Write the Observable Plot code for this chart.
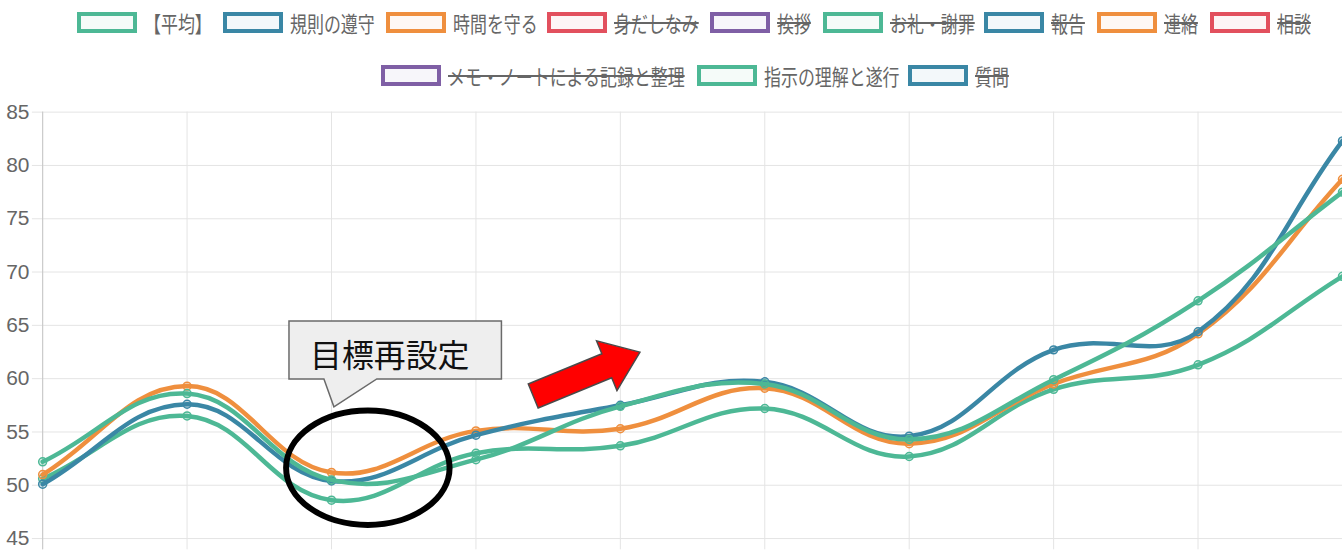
<!DOCTYPE html>
<html>
<head>
<meta charset="utf-8">
<script src="https://cdn.jsdelivr.net/npm/d3@7"></script>
<script src="https://cdn.jsdelivr.net/npm/@observablehq/plot@0.6"></script>
<style>
  html, body { margin: 0; padding: 0; background: #fff; overflow: hidden; }
  #wrap { position: relative; width: 1342px; height: 551px; overflow: hidden; }
  #legend { position: relative; width: 1342px; height: 100px; }
  .lg-box { position: absolute; width: 60px; height: 21px; box-sizing: border-box; border: 4px solid; }
  .lg-text { position: absolute; font-family: "Noto Sans CJK JP", sans-serif; font-size: 22px; color: #666;
             white-space: nowrap; transform: scaleX(0.77); transform-origin: 0 50%; line-height: 1; }
  .lg-text.off { text-decoration: line-through; text-decoration-thickness: 2px; text-decoration-color: #666; }
  #chart { position: absolute; left: 0; top: 100px; }
</style>
</head>
<body>
<div id="wrap">
  <div id="legend"></div>
  <div id="chart"></div>
</div>
<script>
// ---- data ----
const xLabels = ["1", "2", "3", "4", "5", "6", "7", "8", "9", "10"];
const yTicks = [45, 50, 55, 60, 65, 70, 75, 80, 85];

const seriesNames = ["【平均】", "規則の遵守", "時間を守る", "身だしなみ", "挨拶", "お礼・謝罪",
                     "報告", "連絡", "相談", "メモ・ノートによる記録と整理", "指示の理解と遂行", "質問"];
const seriesHidden = [false, false, false, true, true, true, true, true, true, true, false, true];
const seriesColors = ["#4db895", "#3a87a5", "#ef8f3e", "#e2505e", "#7f5fa5", "#4db895",
                      "#3a87a5", "#ef8f3e", "#e2505e", "#7f5fa5", "#4db895", "#3a87a5"];

const avgValues   = [52.2, 58.6, 50.5, 52.4, 57.4, 59.5, 54.3, 59.9, 67.3, 77.5];
const rulesValues = [50.1, 57.6, 50.4, 54.7, 57.5, 59.7, 54.6, 62.7, 64.4, 82.3];
const timeValues  = [51.0, 59.3, 51.2, 55.1, 55.3, 59.1, 53.9, 59.5, 64.2, 78.7];
const instrValues = [50.6, 56.5, 48.6, 53.0, 53.7, 57.2, 52.7, 59.0, 61.3, 69.6];

// annotation anchors in data units (x = category index, y = value)
const ellipseNote = {cx: 2.255, cy: 51.6, rx: 0.566, ry: 5.37};
const calloutNote = {text: "目標再設定", x1: 1.709, x2: 3.180, y1: 65.37, y2: 59.93,
                     px1: 1.951, px2: 2.317, tipX: 2.020, tipY: 57.31, tx: 2.407, ty: 62.4};
const arrowNote = {fromX: 3.40, fromY: 58.33, toX: 4.139, toY: 62.44};

// ---- build table ----
const visible = [
  {name: seriesNames[10], values: instrValues, color: seriesColors[10]},
  {name: seriesNames[2], values: timeValues, color: seriesColors[2]},
  {name: seriesNames[1], values: rulesValues, color: seriesColors[1]},
  {name: seriesNames[0], values: avgValues, color: seriesColors[0]}
];
const rows = visible.flatMap(s => s.values.map((v, i) => ({i, label: xLabels[i], v, series: s.name})));

// Chart.js style spline (tension 0.4)
function ChartJsCurve(context) { this._context = context; }
ChartJsCurve.prototype = {
  areaStart() { this._line = 0; },
  areaEnd() { this._line = NaN; },
  lineStart() { this._pts = []; },
  point(x, y) { this._pts.push([+x, +y]); },
  lineEnd() {
    const p = this._pts, n = p.length, c = this._context, t = 0.4;
    if (!n) return;
    const cps = p.map((cur, i) => {
      const prev = p[i - 1] || cur, next = p[i + 1] || cur;
      const d01 = Math.hypot(cur[0] - prev[0], cur[1] - prev[1]);
      const d12 = Math.hypot(next[0] - cur[0], next[1] - cur[1]);
      let s01 = d01 / (d01 + d12), s12 = d12 / (d01 + d12);
      if (isNaN(s01)) s01 = 0;
      if (isNaN(s12)) s12 = 0;
      const fa = t * s01, fb = t * s12;
      return {
        p: [cur[0] - fa * (next[0] - prev[0]), cur[1] - fa * (next[1] - prev[1])],
        n: [cur[0] + fb * (next[0] - prev[0]), cur[1] + fb * (next[1] - prev[1])]
      };
    });
    c.moveTo(p[0][0], p[0][1]);
    for (let i = 1; i < n; i++) {
      c.bezierCurveTo(cps[i - 1].n[0], cps[i - 1].n[1], cps[i].p[0], cps[i].p[1], p[i][0], p[i][1]);
    }
  }
};
const chartjsCurve = ctx => new ChartJsCurve(ctx);

function tint(hex, a) {
  const c = d3.color(hex); c.opacity = a; return c.formatRgb();
}

// ---- legend ----
const legendLayout = [
  {row: 0, left: 77}, {row: 0, left: 223}, {row: 0, left: 386}, {row: 0, left: 547},
  {row: 0, left: 710}, {row: 0, left: 823}, {row: 0, left: 984}, {row: 0, left: 1097},
  {row: 0, left: 1210}, {row: 1, left: 381}, {row: 1, left: 697}, {row: 1, left: 908}
];
const rowTop = [12, 65];
const legendEl = document.getElementById("legend");
seriesNames.forEach((name, k) => {
  const L = legendLayout[k];
  const box = document.createElement("div");
  box.className = "lg-box";
  box.style.left = L.left + "px";
  box.style.top = rowTop[L.row] + "px";
  box.style.borderColor = seriesColors[k];
  box.style.background = tint(seriesColors[k], 0.06);
  legendEl.appendChild(box);
  const tx = document.createElement("div");
  tx.className = "lg-text" + (seriesHidden[k] ? " off" : "");
  tx.textContent = name;
  tx.style.left = (L.left + 67) + "px";
  tx.style.top = (rowTop[L.row] - 1) + "px";
  legendEl.appendChild(tx);
});

// ---- chart ----
const marks = [
  Plot.ruleY(yTicks, {stroke: "#e4e4e4", strokeWidth: 1}),
  Plot.ruleX(d3.range(xLabels.length), {stroke: "#e4e4e4", strokeWidth: 1}),
  Plot.ruleX([0], {stroke: "#c6c6c6", strokeWidth: 1})
];
visible.forEach(s => {
  const d = rows.filter(r => r.series === s.name);
  marks.push(Plot.line(d, {x: "i", y: "v", stroke: s.color, strokeWidth: 4.5, curve: chartjsCurve}));
  marks.push(Plot.dot(d, {x: "i", y: "v", r: 4, stroke: s.color, strokeWidth: 1.5, fill: tint(s.color, 0.2)}));
});

const plot = Plot.plot({
  width: 1347,
  height: 451,
  marginTop: 11.7,
  marginBottom: 0,
  marginLeft: 32,
  marginRight: 0,
  x: {domain: [0, xLabels.length - 1], axis: null, insetLeft: 10.3},
  y: {domain: [45, 85], ticks: yTicks, tickSize: 0, tickPadding: 3, label: null, insetBottom: 11.3},
  style: {fontFamily: "'Liberation Sans Narrow', 'Liberation Sans', Arial, sans-serif", fontSize: "21px", color: "#666", background: "transparent", overflow: "visible"},
  marks
});
document.getElementById("chart").appendChild(plot);

// ---- annotations (positioned through the chart scales) ----
const sx = v => plot.scale("x").apply(v);
const sy = v => plot.scale("y").apply(v);
const svg = d3.select(plot);
const ann = svg.append("g");

// callout
const c = calloutNote;
const cx1 = sx(c.x1), cx2 = sx(c.x2), cy1 = sy(c.y1), cy2 = sy(c.y2);
ann.append("path")
  .attr("d", `M${cx1},${cy1}H${cx2}V${cy2}H${sx(c.px2)}L${sx(c.tipX)},${sy(c.tipY)}L${sx(c.px1)},${cy2}H${cx1}Z`)
  .attr("fill", "#eeeeee").attr("stroke", "#6a6a6a").attr("stroke-width", 1.5);
ann.append("text")
  .attr("x", sx(c.tx)).attr("y", sy(c.ty))
  .attr("text-anchor", "middle").attr("dominant-baseline", "central")
  .attr("font-family", "'Noto Sans CJK JP', sans-serif").attr("font-size", 32).attr("fill", "#111")
  .text(c.text);

// ellipse
const e = ellipseNote;
ann.append("ellipse")
  .attr("cx", sx(e.cx)).attr("cy", sy(e.cy))
  .attr("rx", sx(e.cx + e.rx) - sx(e.cx)).attr("ry", sy(e.cy - e.ry) - sy(e.cy))
  .attr("fill", "none").attr("stroke", "#000").attr("stroke-width", 6);

// arrow
const a = arrowNote;
const C = [sx(a.fromX), sy(a.fromY)], T = [sx(a.toX), sy(a.toY)];
const len = Math.hypot(T[0] - C[0], T[1] - C[1]);
const u = [(T[0] - C[0]) / len, (T[1] - C[1]) / len], nrm = [-u[1], u[0]];
const shaftHalf = 13, headHalf = 27, headLen = 36;
const B = [T[0] - u[0] * headLen, T[1] - u[1] * headLen];
const P = (o, k) => [o[0] + nrm[0] * k, o[1] + nrm[1] * k];
const pts = [P(C, shaftHalf), P(B, shaftHalf), P(B, headHalf), T, P(B, -headHalf), P(B, -shaftHalf), P(C, -shaftHalf)];
ann.append("polygon")
  .attr("points", pts.map(p => p.join(",")).join(" "))
  .attr("fill", "#ff0000").attr("stroke", "#4a4a4a").attr("stroke-width", 1.5);
</script>
</body>
</html>
